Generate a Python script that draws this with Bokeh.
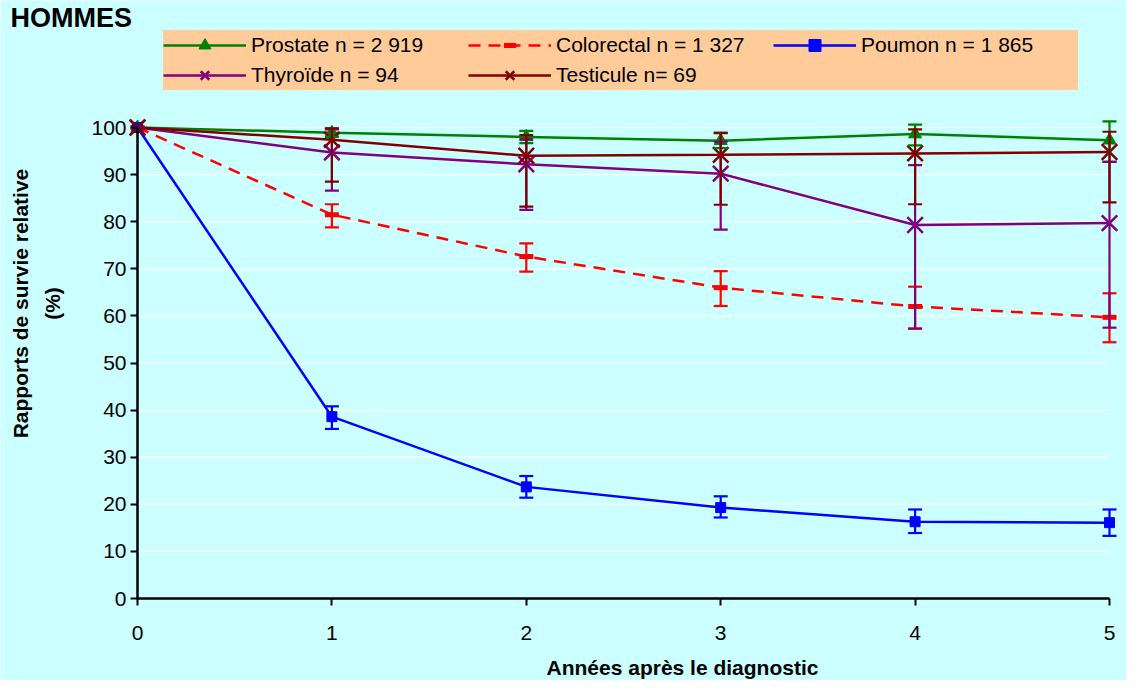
from bokeh.plotting import figure
from bokeh.models import (Range1d, ColumnDataSource, Whisker, TeeHead, Legend,
                          LegendItem, Label, FixedTicker)
from bokeh.embed import file_html
from bokeh.resources import INLINE

# ---------------- data ----------------
years = [0, 1, 2, 3, 4, 5]
x_ticks = [0, 1, 2, 3, 4, 5]
y_ticks = [0, 10, 20, 30, 40, 50, 60, 70, 80, 90, 100]
grid_values = [10, 20, 30, 40, 50, 60, 70, 80, 90, 100]

prostate = [100, 98.9, 98.0, 97.2, 98.6, 97.3]
prostate_hi = [100, 99.8, 99.3, 98.9, 100.6, 101.3]
prostate_lo = [100, 98.0, 96.7, 95.6, 96.2, 92.7]

colorectal = [100, 81.5, 72.6, 66.0, 62.0, 59.7]
colorectal_hi = [100, 83.7, 75.4, 69.5, 66.2, 64.8]
colorectal_lo = [100, 78.8, 69.4, 62.1, 57.3, 54.4]

poumon = [100, 38.6, 23.7, 19.3, 16.3, 16.1]
poumon_hi = [100, 40.8, 26.0, 21.7, 18.9, 18.9]
poumon_lo = [100, 36.0, 21.4, 17.2, 13.9, 13.3]

thyroide = [100, 94.7, 92.2, 90.2, 79.3, 79.7]
thyroide_hi = [100, 99.6, 97.5, 97.0, 92.0, 92.7]
thyroide_lo = [100, 86.6, 82.5, 78.3, 57.3, 57.5]

testicule = [100, 97.4, 94.0, 94.2, 94.5, 94.8]
testicule_hi = [100, 99.8, 98.4, 98.8, 99.6, 99.1]
testicule_lo = [100, 88.5, 83.2, 83.6, 83.7, 84.1]

labels = ["Prostate n = 2 919", "Colorectal n = 1 327", "Poumon n = 1 865",
          "Thyroïde n = 94", "Testicule n= 69"]
colors = ["#008000", "#FF0000", "#0000FF", "#800080", "#800000"]

title_text = "HOMMES"
x_label = "Années après le diagnostic"
y_label_1 = "Rapports de survie relative"
y_label_2 = "(%)"

FONT = "Liberation Sans"
BG = "#CCFFFF"

# canvas geometry: x=0 -> px 137, x=5 -> px 1109 ; y=100 -> px 127, y=0 -> px 598
W, H = 1126, 680
PX_X = 972 / 5.0
PX_Y = 471 / 100.0
x_range = Range1d(-137 / PX_X, (W - 137) / PX_X)
y_range = Range1d(-(H - 598) / PX_Y, 100 + 127 / PX_Y)

# ---------------- figure ----------------
p = figure(frame_width=W, frame_height=H,
           x_range=x_range, y_range=y_range,
           output_backend="svg", toolbar_location=None,
           min_border_left=0, min_border_right=0,
           min_border_top=0, min_border_bottom=0,
           background_fill_color=BG, border_fill_color=BG,
           outline_line_color=None)

p.xgrid.visible = False
p.ygrid.visible = False

# horizontal white gridlines between x=0 and x=5
p.segment(x0=[x_ticks[0]] * len(grid_values), x1=[x_ticks[-1]] * len(grid_values),
          y0=grid_values, y1=grid_values, line_color="white", line_width=1.2)

# axes
for ax in (p.xaxis, p.yaxis):
    ax.axis_line_color = "black"
    ax.axis_line_width = 2.5
    ax.major_tick_line_color = "black"
    ax.major_tick_line_width = 2
    ax.major_tick_in = 0
    ax.major_tick_out = 7
    ax.minor_tick_line_color = None
    ax.major_label_text_font = FONT
    ax.major_label_text_font_size = "21px"
    ax.major_label_text_color = "black"

p.xaxis.ticker = FixedTicker(ticks=x_ticks)
p.yaxis.ticker = FixedTicker(ticks=y_ticks)
p.xaxis.fixed_location = 0
p.yaxis.fixed_location = 0
p.xaxis.bounds = (x_ticks[0], x_ticks[-1])
p.yaxis.bounds = (y_ticks[0], y_ticks[-1])
p.xaxis.major_label_standoff = 20
p.yaxis.major_label_standoff = 4

# series
series = [
    (prostate, prostate_hi, prostate_lo, "triangle", 13, None),
    (colorectal, colorectal_hi, colorectal_lo, "dash", 14, "12 8"),
    (poumon, poumon_hi, poumon_lo, "square", 10, None),
    (thyroide, thyroide_hi, thyroide_lo, "x", 22, None),
    (testicule, testicule_hi, testicule_lo, "x", 22, None),
]

items = []
for (vals, hi, lo, marker, size, dash), lab, col in zip(series, labels, colors):
    src = ColumnDataSource(dict(x=years, y=vals))
    esrc = ColumnDataSource(dict(x=years[1:], upper=hi[1:], lower=lo[1:]))
    kw = {}
    if dash:
        kw["line_dash"] = dash
    lr = p.line("x", "y", source=src, line_color=col, line_width=2.5, **kw)
    p.add_layout(Whisker(source=esrc, base="x", upper="upper", lower="lower",
                         dimension="height", line_color=col, line_width=2.2,
                         upper_head=TeeHead(size=14, line_color=col, line_width=2.2),
                         lower_head=TeeHead(size=14, line_color=col, line_width=2.2),
                         level="glyph"))
    if marker == "dash":
        mr = p.scatter("x", "y", source=src, marker="dash", size=size,
                       line_color=col, line_width=5)
    elif marker == "x":
        mr = p.scatter("x", "y", source=src, marker="x", size=size,
                       line_color=col, line_width=2.5)
    else:
        mr = p.scatter("x", "y", source=src, marker=marker, size=size,
                       fill_color=col, line_color=col)
    items.append(LegendItem(label=lab, renderers=[lr, mr]))

# legend: bottom-left corner given in px from the frame's bottom-left corner
legend = Legend(items=items, location=(163, 590), orientation="horizontal", ncols=3,
                glyph_width=83, glyph_height=30, label_height=30, label_width=217,
                label_standoff=5, spacing=0, padding=12, margin=0,
                background_fill_color="#FFCC99", background_fill_alpha=1.0,
                border_line_color=None,
                label_text_font=FONT, label_text_font_size="21px",
                label_text_color="black")
p.add_layout(legend, "center")


def dx(px):
    return (px - 137) / PX_X


def dy(py):
    return (598 - py) / PX_Y


# title and axis titles (placed in data units)
p.add_layout(Label(x=dx(10), y=dy(17), text=title_text, text_font=FONT,
                   text_font_size="27px", text_font_style="bold", text_color="black",
                   text_baseline="middle", text_align="left"))
p.add_layout(Label(x=dx(682), y=dy(667), text=x_label, text_font=FONT,
                   text_font_size="21px", text_font_style="bold", text_color="black",
                   text_baseline="middle", text_align="center"))
p.add_layout(Label(x=dx(20), y=dy(303), angle=1.5708, text=y_label_1, text_font=FONT,
                   text_font_size="21px", text_font_style="bold", text_color="black",
                   text_baseline="middle", text_align="center"))
p.add_layout(Label(x=dx(52), y=dy(303), angle=1.5708, text=y_label_2, text_font=FONT,
                   text_font_size="21px", text_font_style="bold", text_color="black",
                   text_baseline="middle", text_align="center"))

open("out.html", "w").write(file_html(p, INLINE))
